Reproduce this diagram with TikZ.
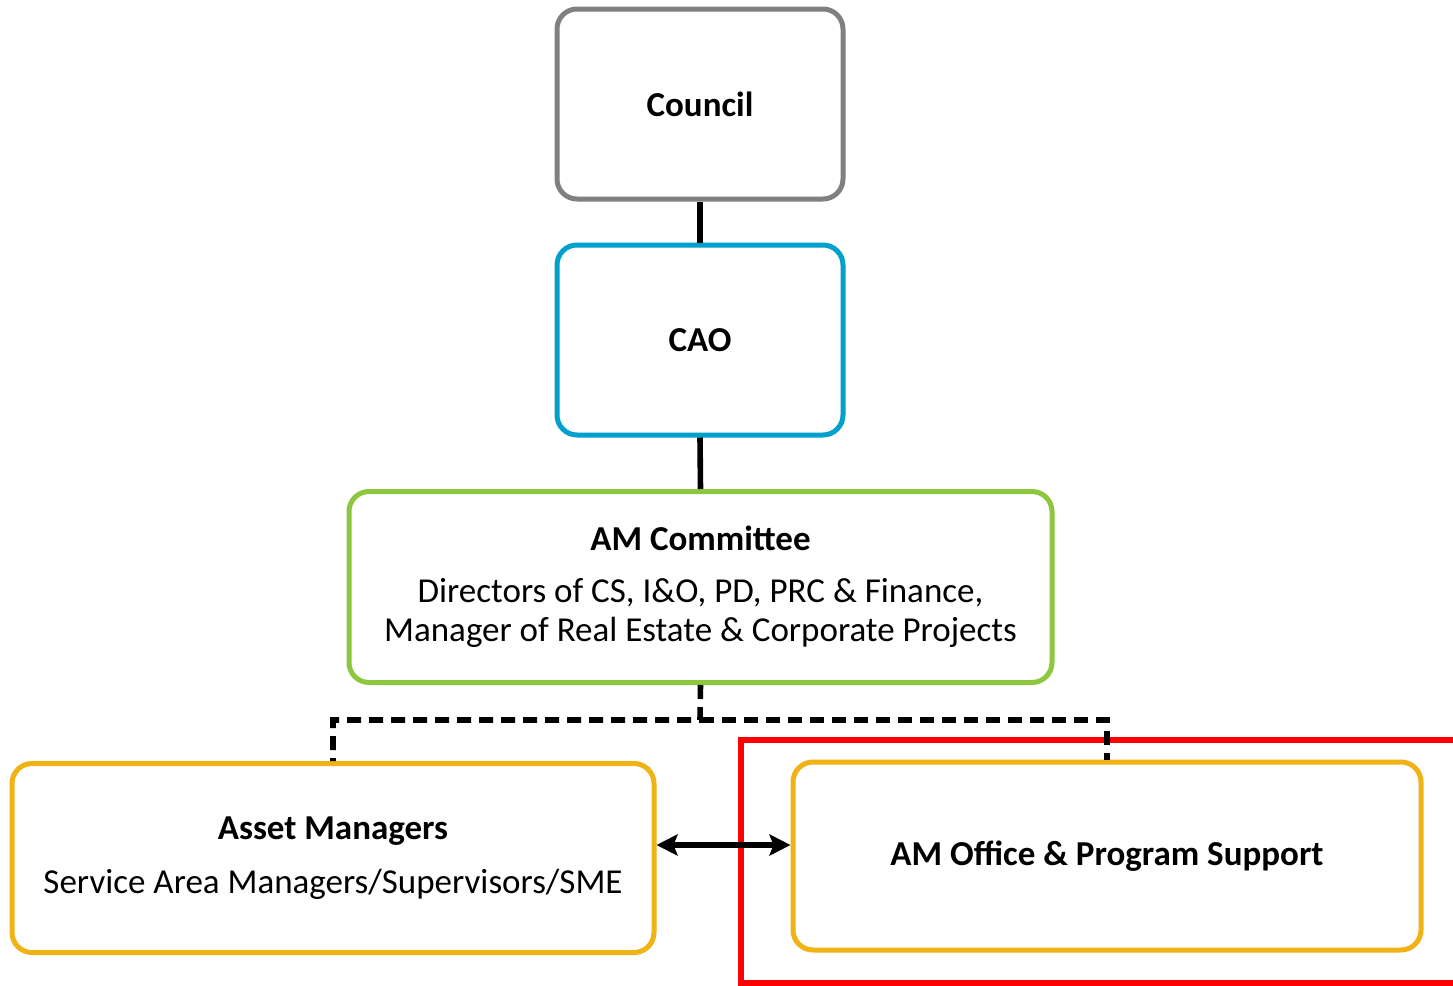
\documentclass[tikz,border=0pt]{standalone}
\usepackage{fontspec}
\setmainfont{Carlito}
\usetikzlibrary{arrows.meta}
\definecolor{cgray}{RGB}{128,128,128}
\definecolor{cblue}{RGB}{0,160,204}
\definecolor{cgreen}{RGB}{141,198,63}
\definecolor{corange}{RGB}{240,178,20}
\definecolor{cred}{RGB}{255,0,0}
\tikzset{bighead/.tip={Stealth[length=10.5pt,width=10.5pt,inset=2pt]}}
\begin{document}
\begin{tikzpicture}[x=0.5pt,y=-0.5pt,
  box/.style={draw, line width=2.5pt, rounded corners=10pt, fill=white, inner sep=0pt, align=center, font=\fontsize{17.5}{19.5}\selectfont},
  link/.style={line width=2.8pt, draw=black},
  dlink/.style={line width=2.8pt, draw=black, dash pattern=on 7pt off 4pt},
]
\useasboundingbox (0,0) rectangle (1453,986);
\fill[white] (0,0) rectangle (1453,986);
% red highlight frame
\draw[cred, line width=3pt] (1470,740) -- (741,740) -- (741,983) -- (1470,983);
\node[box, draw=cgray, minimum width=143pt, minimum height=95pt] (council) at (700,104) {\textbf{Council}};
\node[box, draw=cblue, minimum width=143pt, minimum height=95pt] (cao) at (700,340) {\textbf{CAO}};
\node[box, draw=cgreen, minimum width=351.5pt, minimum height=95.5pt] (amc) at (700.5,587)
  {\textbf{AM Committee}\\[6.5pt] Directors of CS, I\&O, PD, PRC \& Finance,\\ Manager of Real Estate \& Corporate Projects};
\node[box, draw=corange, minimum width=321pt, minimum height=94.5pt] (asset) at (333,858)
  {\textbf{Asset Managers}\\[7.5pt] Service Area Managers/Supervisors/SME};
\node[box, draw=corange, minimum width=314pt, minimum height=94pt] (office) at (1107,856)
  {\textbf{AM Office \& Program Support}};
\coordinate (split) at (700,720);
\draw[link] (council.south) -- (cao.north);
\draw[link] (cao.south) -- (amc.north);
\draw[dlink] (amc.south) -- (split) -| (asset.north);
\draw[dlink] (split) -| (office.north);
\draw[line width=2.8pt, bighead-bighead]
  (asset.east |- 0,845) -- (office.west |- 0,845);
\end{tikzpicture}
\end{document}
